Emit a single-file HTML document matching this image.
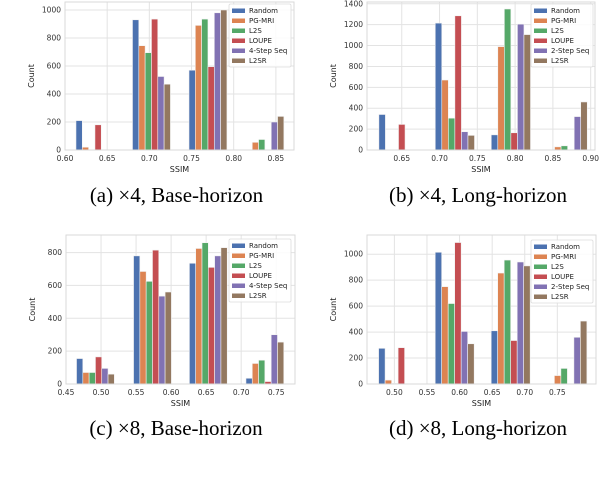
<!DOCTYPE html>
<html><head><meta charset="utf-8"><style>
body{margin:0;background:#fff;width:600px;height:476px;overflow:hidden}
svg text{font-family:"DejaVu Sans","Liberation Sans",sans-serif}
.cap{font-family:"Liberation Serif",serif;font-size:21px;fill:#000}
</style></head><body>
<svg id="fig" width="600" height="476" xmlns="http://www.w3.org/2000/svg"></svg>
<script>
const seriesNames4=["Random","PG-MRI","L2S","LOUPE","4-Step Seq","L2SR"];
const seriesNames2=["Random","PG-MRI","L2S","LOUPE","2-Step Seq","L2SR"];
const colors=["#4c72b0","#dd8452","#55a868","#c44e52","#8172b3","#937860"];
// panel a
const aBins=[0.613,0.680,0.747,0.8145];
const aRandom=[210,930,570,0],aPG=[20,745,890,55],aL2S=[0,695,935,75],aLOUPE=[180,935,595,0],aSeq=[0,525,980,200],aL2SR=[0,470,1000,240];
const aXTicks=[0.60,0.65,0.70,0.75,0.80,0.85],aYTicks=[0,200,400,600,800,1000];
// panel b
const bBins=[0.6197,0.6943,0.7684,0.8435];
const bRandom=[340,1215,145,0],bPG=[0,670,990,30],bL2S=[0,305,1350,40],bLOUPE=[245,1285,165,0],bSeq=[0,175,1205,320],bL2SR=[0,140,1105,460];
const bXTicks=[0.65,0.70,0.75,0.80,0.85,0.90],bYTicks=[0,200,400,600,800,1000,1200,1400];
// panel c
const cBins=[0.465,0.5464,0.6261,0.7068];
const cRandom=[155,780,735,35],cPG=[70,685,825,125],cL2S=[70,625,860,145],cLOUPE=[165,815,710,15],cSeq=[95,535,780,300],cL2SR=[60,560,830,255];
const cXTicks=[0.45,0.50,0.55,0.60,0.65,0.70,0.75],cYTicks=[0,200,400,600,800];
// panel d
const dBins=[0.4758,0.5626,0.6485,0.7355];
const dRandom=[275,1015,410,0],dPG=[30,750,855,65],dL2S=[5,620,955,120],dLOUPE=[280,1090,335,0],dSeq=[0,405,940,360],dL2SR=[0,310,910,485];
const dXTicks=[0.50,0.55,0.60,0.65,0.70,0.75],dYTicks=[0,200,400,600,800,1000];

const NS="http://www.w3.org/2000/svg";
const svg=document.getElementById('fig');
function mk(tag,attrs,parent){const e=document.createElementNS(NS,tag);for(const k in attrs)e.setAttribute(k,attrs[k]);(parent||svg).appendChild(e);return e;}

const panels=[
 {id:'a',L:65,R:294,T:2,B:150,x0:0.60,x1:0.8715,y1:1057,bins:aBins,bw:0.0075,series:[aRandom,aPG,aL2S,aLOUPE,aSeq,aL2SR],names:seriesNames4,xt:aXTicks,yt:aYTicks,leg:[229,4],cap:"(a) ×4, Base-horizon",capY:202,capX:176.5},
 {id:'b',L:367,R:595,T:2,B:150,x0:0.604,x1:0.9057,y1:1417,bins:bBins,bw:0.00866,series:[bRandom,bPG,bL2S,bLOUPE,bSeq,bL2SR],names:seriesNames2,xt:bXTicks,yt:bYTicks,leg:[531,4],cap:"(b) ×4, Long-horizon",capY:202,capX:478},
 {id:'c',L:66,R:295,T:235,B:384,x0:0.45,x1:0.7768,y1:907,bins:cBins,bw:0.009,series:[cRandom,cPG,cL2S,cLOUPE,cSeq,cL2SR],names:seriesNames4,xt:cXTicks,yt:cYTicks,leg:[229,239],cap:"(c) ×8, Base-horizon",capY:435,capX:176},
 {id:'d',L:367,R:596,T:235,B:384,x0:0.458,x1:0.8093,y1:1148,bins:dBins,bw:0.00997,series:[dRandom,dPG,dL2S,dLOUPE,dSeq,dL2SR],names:seriesNames2,xt:dXTicks,yt:dYTicks,leg:[531,240],cap:"(d) ×8, Long-horizon",capY:435,capX:478}
];

panels.forEach(p=>{
 const g=mk('g',{});
 
 
 const X=v=>p.L+(v-p.x0)/(p.x1-p.x0)*(p.R-p.L);
 const Y=v=>p.B-v/p.y1*(p.B-p.T);
 mk('rect',{x:p.L,y:p.T,width:p.R-p.L,height:p.B-p.T,fill:'#fff'},g);
 p.yt.forEach(t=>{
  mk('line',{x1:p.L,x2:p.R,y1:Y(t),y2:Y(t),stroke:'#e3e3e3','stroke-width':1},g);
  const tx=mk('text',{x:p.L-4,y:Y(t)+2.5,'font-size':7.5,'text-anchor':'end',fill:'#333'},g);
  tx.textContent=t;
  
  
 });
 p.xt.forEach(t=>{
  mk('line',{x1:X(t),x2:X(t),y1:p.T,y2:p.B,stroke:'#e3e3e3','stroke-width':1},g);
  const tx=mk('text',{x:X(t),y:p.B+11,'font-size':7.5,'text-anchor':'middle',fill:'#333'},g);
  tx.textContent=t.toFixed(2);
  
  
 });
 p.series.forEach((vals,si)=>{
  vals.forEach((v,bi)=>{
   if(v<=0)return;
   const x=X(p.bins[bi]+si*p.bw);
   const w=X(p.bins[bi]+(si+1)*p.bw)-x;
   const r=mk('rect',{x:x,y:Y(v),width:w,height:p.B-Y(v),fill:colors[si],stroke:'#f2f2f2','stroke-width':0.6},g);
   
   
  });
 });
 mk('rect',{x:p.L,y:p.T,width:p.R-p.L,height:p.B-p.T,fill:'none',stroke:'#d9d9d9','stroke-width':1},g);
 const yl=mk('text',{x:0,y:0,'font-size':8,'text-anchor':'middle',fill:'#222',transform:`translate(${p.L-31},${(p.T+p.B)/2}) rotate(-90)`},g);
 yl.textContent='Count';
 
 
 const xl=mk('text',{x:(p.L+p.R)/2,y:p.B+22,'font-size':8,'text-anchor':'middle',fill:'#222'},g);
 xl.textContent='SSIM';
 
 
 const lg=mk('g',{},g);
 
 
 mk('rect',{x:p.leg[0],y:p.leg[1],width:62,height:63,fill:'#fff','fill-opacity':0.85,stroke:'#dcdcdc','stroke-width':0.8,rx:1.5},lg);
 p.names.forEach((n,i)=>{
  const yy=p.leg[1]+6.5+i*10;
  mk('rect',{x:p.leg[0]+3,y:yy-2,width:13,height:4.5,fill:colors[i]},lg);
  const t=mk('text',{x:p.leg[0]+20,y:yy+2.5,'font-size':7,fill:'#222'},lg);
  t.textContent=n;
  
  
 });
 const c=mk('text',{x:p.capX,y:p.capY,class:'cap','text-anchor':'middle'},g);
 c.textContent=p.cap;
 
 
});
</script>
</body></html>
